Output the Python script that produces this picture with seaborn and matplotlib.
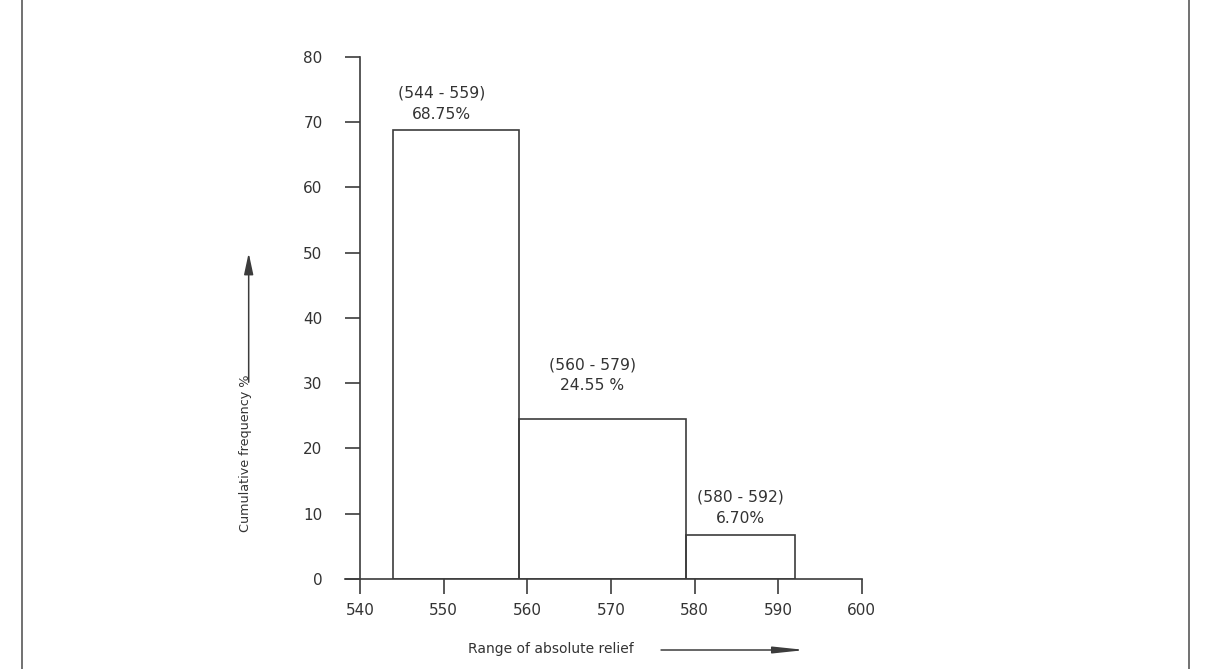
import numpy as np
import pandas as pd
import matplotlib
matplotlib.use("Agg")
import matplotlib.pyplot as plt
import seaborn as sns

# relief classes and their share
bin_edges = [544, 559, 579, 592]
class_labels = ["(544 - 559)", "(560 - 579)", "(580 - 592)"]
pct_labels = ["68.75%", "24.55 %", "6.70%"]
percent = [68.75, 24.55, 6.70]

df = pd.DataFrame({
    "mid": [(a + b) / 2 for a, b in zip(bin_edges[:-1], bin_edges[1:])],
    "pct": percent,
})

sns.set_style("white")
plt.rcParams["font.family"] = ["DejaVu Sans"]
ink = "#3c3c3c"

fig = plt.figure(figsize=(12.19, 6.69), dpi=100)
ax = fig.add_axes([0.283, 0.1345, 0.424, 0.7805])

sns.histplot(data=df, x="mid", weights="pct", bins=bin_edges, fill=False,
             color=ink, linewidth=1.2, ax=ax, legend=False)

ax.set_xlim(538.2, 600)
ax.set_ylim(0, 80)
ax.set_xticks(range(540, 601, 10))
ax.set_yticks(range(0, 81, 10))
ax.spines["left"].set_position(("data", 540))
for s in ["top", "right"]:
    ax.spines[s].set_visible(False)
for s in ["left", "bottom"]:
    ax.spines[s].set_color(ink)
    ax.spines[s].set_linewidth(1.2)
ax.tick_params(axis="x", bottom=True, direction="out", length=11, width=1.2,
               color=ink, labelsize=11, labelcolor="#333333", pad=6)
ax.tick_params(axis="y", left=True, direction="out", length=11, width=1.2,
               color=ink, labelsize=11, labelcolor="#333333", pad=16)
ax.set_xlabel("")
ax.set_ylabel("")

# class annotations
ann_x = [549.7, 567.8, 585.5]
ann_y1 = [74.5, 32.8, 12.6]
ann_y2 = [71.1, 29.6, 9.2]
for x, y1, y2, c, p in zip(ann_x, ann_y1, ann_y2, class_labels, pct_labels):
    ax.text(x, y1, c, ha="center", va="center", fontsize=11.2, color="#333333")
    ax.text(x, y2, p, ha="center", va="center", fontsize=11.2, color="#333333")

# axis titles with arrows
fig.text(0.2018, 0.322, "Cumulative frequency %", rotation=90, ha="center",
         va="center", fontsize=9.2, color="#333333")
fig.add_artist(matplotlib.patches.FancyArrowPatch(
    (0.204, 0.4245), (0.204, 0.626), transform=fig.transFigure,
    arrowstyle="-|>,head_length=1.3,head_width=0.28", mutation_scale=10,
    color=ink, lw=1.1))
fig.text(0.452, 0.030, "Range of absolute relief", ha="center", va="center",
         fontsize=10, color="#333333")
fig.add_artist(matplotlib.patches.FancyArrowPatch(
    (0.540, 0.0284), (0.663, 0.0284), transform=fig.transFigure,
    arrowstyle="-|>,head_length=1.9,head_width=0.2", mutation_scale=10,
    color=ink, lw=1.1))

# page border lines
fig.add_artist(matplotlib.lines.Line2D([0.018, 0.018], [0, 1], color="#666666",
                                       lw=1.3, transform=fig.transFigure))
fig.add_artist(matplotlib.lines.Line2D([0.975, 0.975], [0, 1], color="#666666",
                                       lw=1.3, transform=fig.transFigure))

fig.savefig("out.png", dpi=100)
